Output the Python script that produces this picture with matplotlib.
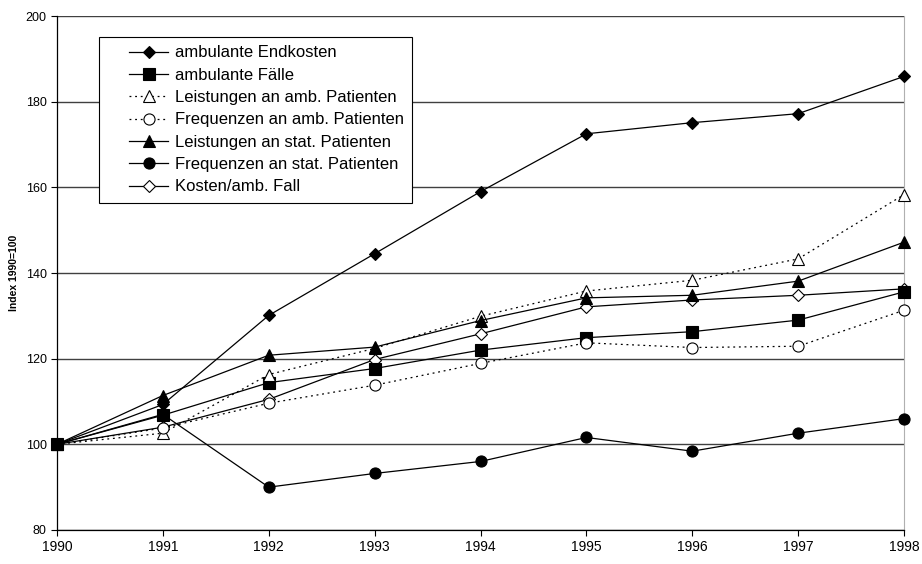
import matplotlib.pyplot as plt
from matplotlib.legend_handler import HandlerLine2D

plt.rcParams['font.family'] = ['Liberation Sans', 'DejaVu Sans']

years = [1990, 1991, 1992, 1993, 1994, 1995, 1996, 1997, 1998]

# Indexwerte 1990=100
endkosten = [100, 109.3, 130.1, 144.5, 159.0, 172.5, 175.1, 177.2, 185.9]
faelle = [100, 106.8, 114.4, 117.7, 122.0, 124.9, 126.3, 129.0, 135.6]
leist_amb = [100, 102.6, 116.3, 122.4, 129.9, 135.8, 138.3, 143.3, 158.3]
freq_amb = [100, 103.8, 109.6, 113.8, 118.9, 123.7, 122.6, 122.9, 131.3]
leist_stat = [100, 111.4, 120.8, 122.7, 128.9, 134.2, 134.8, 138.1, 147.2]
freq_stat = [100, 107.0, 90.0, 93.2, 96.0, 101.6, 98.4, 102.6, 106.0]
kosten_fall = [100, 104.0, 110.5, 119.8, 125.8, 132.1, 133.7, 134.8, 136.3]

dots = (0, (1.5, 3))
series = [
    ("ambulante Endkosten", endkosten, '-', 'D', 'black', 6.5, 3),
    ("ambulante Fälle", faelle, '-', 's', 'black', 8, 3),
    ("Leistungen an amb. Patienten", leist_amb, dots, '^', 'white', 8, 3),
    ("Frequenzen an amb. Patienten", freq_amb, dots, 'o', 'white', 8, 3),
    ("Leistungen an stat. Patienten", leist_stat, '-', '^', 'black', 8, 3),
    ("Frequenzen an stat. Patienten", freq_stat, '-', 'o', 'black', 8, 3),
    ("Kosten/amb. Fall", kosten_fall, '-', 'D', 'white', 6.5, 2.9),
]

fig = plt.figure(figsize=(9.22, 5.64), dpi=100)
ax = fig.add_axes([0.0618, 0.0603, 0.9187, 0.9113])

for lab, vals, ls, mk, fc, ms, z in series:
    ax.plot(years, vals, linestyle=ls, color='black', linewidth=0.9,
            marker=mk, markersize=ms, markerfacecolor=fc,
            markeredgecolor='black', markeredgewidth=0.8, label=lab,
            clip_on=False, zorder=z)

ax.set_xlim(1990, 1998)
ax.set_ylim(80, 200)
ax.set_xticks(years)
ax.set_yticks(range(80, 201, 20))
ax.yaxis.grid(True, color='#404040', linewidth=1.0)
ax.set_axisbelow(True)
ax.tick_params(axis='both', labelsize=9, length=4, width=0.8, direction='out')
ax.tick_params(axis='x', labelsize=10)

ax.spines['top'].set_visible(False)
ax.spines['right'].set_color('#b0b0b0')
ax.spines['left'].set_linewidth(0.9)
ax.spines['bottom'].set_linewidth(0.9)

ax.set_ylabel('Index 1990=100', fontsize=7.5, fontweight='bold', labelpad=5)

# Handle etwas eingerueckt wie im Original
leg = ax.legend(loc='upper left', bbox_to_anchor=(0.0496, 0.959),
                borderaxespad=0, fontsize=12, handlelength=3.66,
                handletextpad=0.4, frameon=True, fancybox=False,
                framealpha=1, edgecolor='black', labelspacing=0.44,
                borderpad=0.5,
                handler_map={plt.Line2D: HandlerLine2D(xpad=1.3)})
leg.get_frame().set_linewidth(0.8)

plt.savefig('out.png', dpi=100)
